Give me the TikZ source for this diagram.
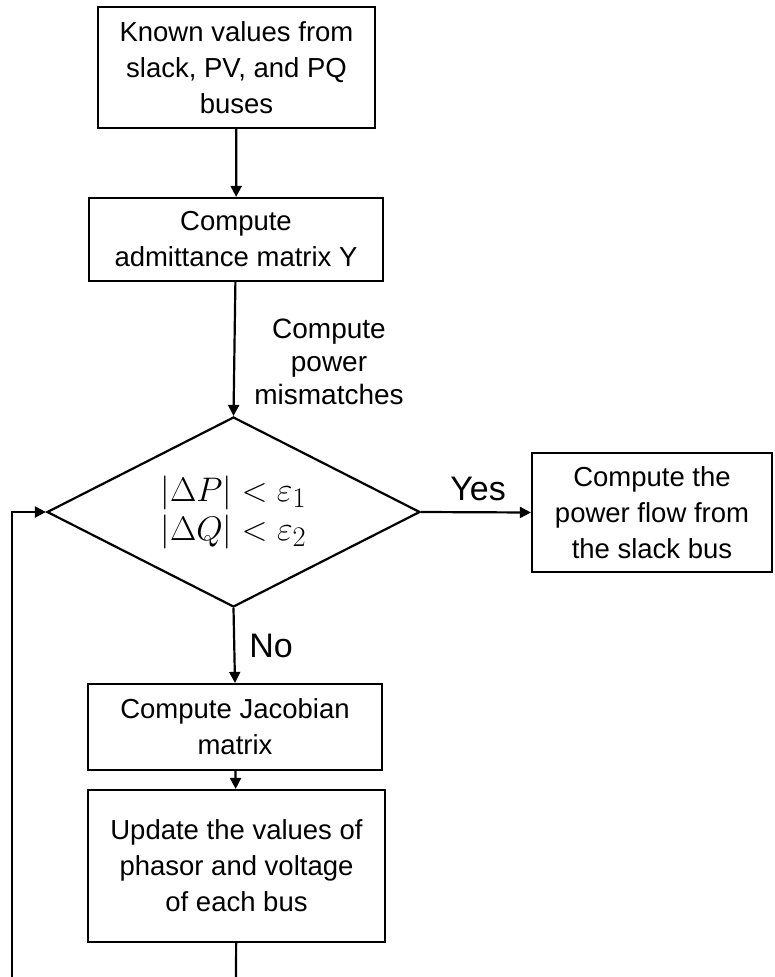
\documentclass[tikz,border=0pt]{standalone}
\usepackage{graphicx}
\usepackage{fontspec}
\setmainfont{Liberation Sans}
\usetikzlibrary{arrows.meta,shapes.geometric}
\newcommand{\condmath}[1]{\scalebox{1.37}{$#1$}}
\begin{document}
\begin{tikzpicture}[x=1pt,y=-1pt,
  box/.style={draw,line width=2.2pt,align=center,inner sep=0pt,
    font=\fontsize{27.5}{36}\selectfont},
  decision/.style={draw,diamond,aspect=1.96,line width=2.2pt,align=center,inner sep=0pt,
    font=\fontsize{24.88}{39}\selectfont},
  link/.style={line width=2.2pt},
  arr/.style={link,-{Triangle[length=11pt,width=11pt]}},
  lbl/.style={font=\fontsize{28}{33}\selectfont,align=center,inner sep=0pt},
  biglbl/.style={font=\fontsize{34}{38}\selectfont,inner sep=0pt}]
\useasboundingbox (0,0) rectangle (775,977);

\node[box,minimum width=277pt,minimum height=121pt] (known) at (236.5,67.5)
  {Known values from\\slack, PV, and PQ\\buses};
\node[box,minimum width=294pt,minimum height=83pt] (ybus) at (236,239.5)
  {Compute\\admittance matrix Y};
\node[decision,minimum width=373pt,minimum height=190pt] (check) at (233.5,512)
  {\condmath{|\Delta P| < \varepsilon_1}\\\condmath{|\Delta Q| < \varepsilon_2}};
\node[box,minimum width=240pt,minimum height=119pt] (flow) at (652,512.5)
  {Compute the\\power flow from\\the slack bus};
\node[box,minimum width=294pt,minimum height=86pt] (jac) at (235,727)
  {Compute Jacobian\\matrix};
\node[box,minimum width=297pt,minimum height=152pt] (update) at (236.5,866)
  {Update the values of\\phasor and voltage\\of each bus};

\node[lbl] (mism) at (329,362) {Compute\\power\\mismatches};
\node[biglbl] (yes) at (478,489) {Yes};
\node[biglbl] (no) at (271,646) {No};

\coordinate (botc) at (236,977);
\coordinate (botl) at (12,977);
\coordinate (topl) at (12,512);

\draw[arr] (known) -- (ybus);
\draw[arr] (ybus) -- (check.north);
\draw[arr] (check.east) -- (flow.west);
\draw[arr] (check.south) -- (jac.north);
\draw[arr] (jac) -- (update);
\draw[link] (update) -- (botc);
\draw[arr] (botl) -- (topl) -- (check.west);
\end{tikzpicture}
\end{document}
